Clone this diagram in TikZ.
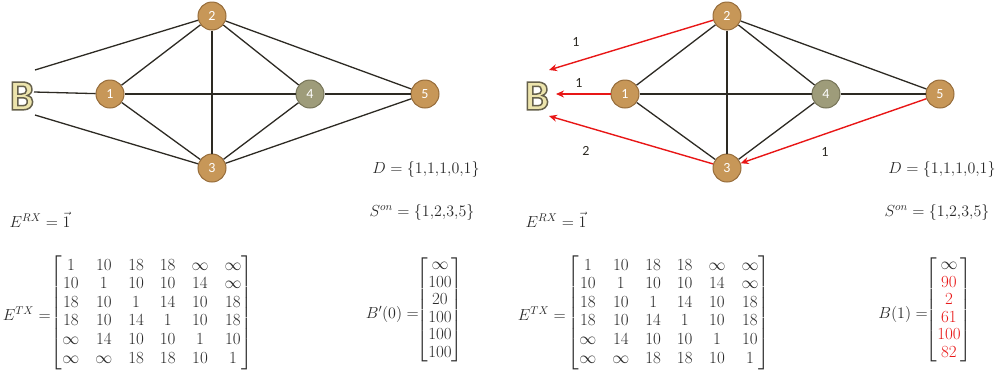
\documentclass[tikz,border=0pt]{standalone}
\usepackage{fix-cm}
\usepackage{amsmath}
\usepackage[no-math]{fontspec}
\newfontfamily\calib{Carlito}
\usetikzlibrary{arrows.meta,calc}
\definecolor{tanfill}{RGB}{199,151,88}
\definecolor{tanline}{RGB}{150,108,58}
\definecolor{olivefill}{RGB}{158,156,122}
\definecolor{oliveline}{RGB}{118,116,88}
\definecolor{edgecol}{RGB}{45,42,35}
\definecolor{mathcol}{RGB}{40,40,40}
\definecolor{redarr}{RGB}{232,22,22}
\definecolor{bfill}{RGB}{236,228,172}
\tikzset{
  vert/.style={circle, minimum size=28pt, inner sep=0pt, fill=tanfill, draw=tanline, line width=1pt,
    text=white, font=\calib\fontsize{14}{14}\selectfont},
  vertg/.style={vert, fill=olivefill, draw=oliveline},
  edge/.style={draw=edgecol, line width=1.3pt},
  redarrow/.style={draw=redarr, line width=1.4pt, -{Stealth[length=8pt,width=7pt]}},
  wlabel/.style={font=\calib\fontsize{14}{14}\selectfont, text=edgecol, inner sep=0pt},
  mtext/.style={font=\fontsize{16}{17.5}\selectfont, inner sep=0pt, text=mathcol},
  mbig/.style={font=\fontsize{17}{17.5}\selectfont, inner sep=0pt, text=mathcol},
  bletter/.style={font=\calib\bfseries\fontsize{43}{43}\selectfont, text=bfill, inner sep=0pt}
}
\newcommand{\outlinedB}{\special{pdf:literal direct 2 Tr 1.5 w 0.40 0.38 0.30 RG}B\special{pdf:literal direct 0 Tr}}
\begin{document}
\begin{tikzpicture}[x=1pt,y=-1pt]
\useasboundingbox (0,0) rectangle (997,373);
% ---------- left graph ----------
\node[bletter] (lB) at (22,96) {\outlinedB};
\coordinate (lBt) at (35,70);
\coordinate (lBm) at (34,92);
\coordinate (lBb) at (35,115);
\node[vert]  (l1) at (110,94) {1};
\node[vert]  (l2) at (212,16) {2};
\node[vert]  (l3) at (212,168) {3};
\node[vertg] (l4) at (310,94) {4};
\node[vert]  (l5) at (425,94) {5};
\draw[edge] (lBt) -- (l2);
\draw[edge] (lBm) -- (l1);
\draw[edge] (lBb) -- (l3);
\draw[edge] (l1) -- (l2);
\draw[edge] (l1) -- (l3);
\draw[edge] (l1) -- (l4);
\draw[edge] (l2) -- (l3);
\draw[edge] (l2) -- (l4);
\draw[edge] (l2) -- (l5);
\draw[edge] (l3) -- (l4);
\draw[edge] (l3) -- (l5);
\draw[edge] (l4) -- (l5);
% ---------- right graph ----------
\node[bletter] (rB) at (537,96) {\outlinedB};
\coordinate (rBt) at (549,70);
\coordinate (rBm) at (556,94);
\coordinate (rBb) at (549,116);
\node[vert]  (r1) at (625,94) {1};
\node[vert]  (r2) at (727,16) {2};
\node[vert]  (r3) at (727,168) {3};
\node[vertg] (r4) at (826,94) {4};
\node[vert]  (r5) at (940,94) {5};
\draw[edge] (r1) -- (r2);
\draw[edge] (r1) -- (r3);
\draw[edge] (r1) -- (r4);
\draw[edge] (r2) -- (r3);
\draw[edge] (r2) -- (r4);
\draw[edge] (r2) -- (r5);
\draw[edge] (r3) -- (r4);
\draw[edge] (r4) -- (r5);
\draw[redarrow] (r2) -- (rBt);
\draw[redarrow] (r1) -- (rBm);
\draw[redarrow] (r3) -- (rBb);
\draw[redarrow] (r5) -- (r3);
\node[wlabel] (w1) at (576,42) {1};
\node[wlabel] (w2) at (579,83) {1};
\node[wlabel] (w3) at (586,151) {2};
\node[wlabel] (w4) at (825,152) {1};
% ---------- left formulas ----------
\node[mtext] (lD) at (426,169) {$D=\{1{,}1{,}1{,}0{,}1\}$};
\node[mtext] (lS) at (422,212) {$S^{on}=\{1{,}2{,}3{,}5\}$};
\node[mtext] (lE) at (40,220) {$E^{RX}=\vec{1}$};
\node[mtext, anchor=east] (lTl) at (51,314) {$E^{TX}=$};
\node[mbig] (lM) at (152,313) {\setlength\arraycolsep{8pt}\renewcommand\arraystretch{1.06}$\begin{bmatrix}
1 & 10 & 18 & 18 & \infty & \infty\\
10 & 1 & 10 & 10 & 14 & \infty\\
18 & 10 & 1 & 14 & 10 & 18\\
18 & 10 & 14 & 1 & 10 & 18\\
\infty & 14 & 10 & 10 & 1 & 10\\
\infty & \infty & 18 & 18 & 10 & 1
\end{bmatrix}$};
\node[mtext, anchor=east] (lVl) at (419,314) {$B'(0)=$};
\node[mbig] (lV) at (440,310) {\setlength\arraycolsep{1pt}\renewcommand\arraystretch{1.0}$\begin{bmatrix}
\infty\\ 100\\ 20\\ 100\\ 100\\ 100
\end{bmatrix}$};
% ---------- right formulas ----------
\node[mtext] (rD) at (942,169) {$D=\{1{,}1{,}1{,}0{,}1\}$};
\node[mtext] (rS) at (937,212) {$S^{on}=\{1{,}2{,}3{,}5\}$};
\node[mtext] (rE) at (556,220) {$E^{RX}=\vec{1}$};
\node[mtext, anchor=east] (rTl) at (566,314) {$E^{TX}=$};
\node[mbig] (rM) at (669,313) {\setlength\arraycolsep{8pt}\renewcommand\arraystretch{1.06}$\begin{bmatrix}
1 & 10 & 18 & 18 & \infty & \infty\\
10 & 1 & 10 & 10 & 14 & \infty\\
18 & 10 & 1 & 14 & 10 & 18\\
18 & 10 & 14 & 1 & 10 & 18\\
\infty & 14 & 10 & 10 & 1 & 10\\
\infty & \infty & 18 & 18 & 10 & 1
\end{bmatrix}$};
\node[mtext, anchor=east] (rVl) at (928,314) {$B(1)=$};
\node[mbig] (rV) at (949,310) {\setlength\arraycolsep{3pt}\renewcommand\arraystretch{1.0}$\begin{bmatrix}
\infty\\ \color{redarr}90\\ \color{redarr}2\\ \color{redarr}61\\ \color{redarr}100\\ \color{redarr}82
\end{bmatrix}$};
\end{tikzpicture}
\end{document}
